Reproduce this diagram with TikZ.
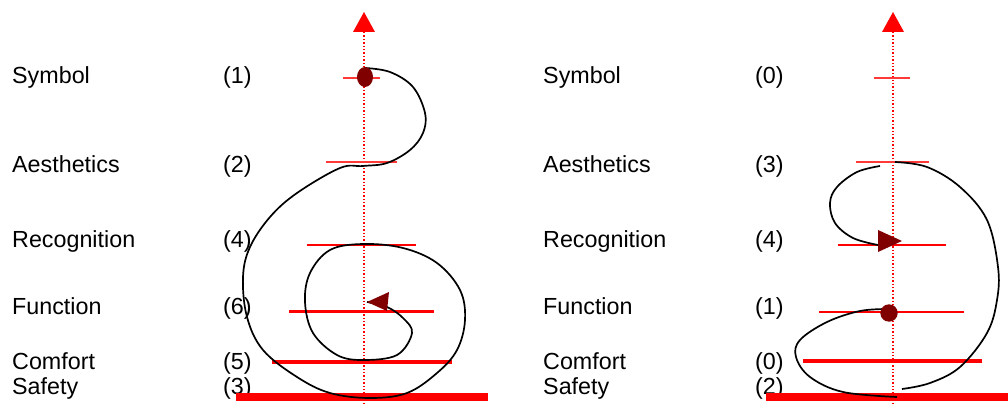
\documentclass[tikz,border=0pt]{standalone}
\usepackage{fontspec}
\setmainfont{Liberation Sans}
\definecolor{axisred}{RGB}{255,0,0}
\definecolor{darkred}{RGB}{128,0,0}
\begin{document}
\begin{tikzpicture}[x=1pt,y=-1pt,
  lbl/.style={anchor=base west,inner sep=0pt,font=\fontsize{23.3}{27}\selectfont},
  axisline/.style={draw=axisred,dotted,line width=1.4pt},
  tipmark/.style={fill=axisred,draw=none},
  lighttick/.style={draw=axisred!78!white,line width=2pt},
  midtick/.style={draw=axisred,line width=2.2pt},
  thicktick/.style={draw=axisred,line width=4.5pt},
  basetick/.style={draw=axisred,line width=8pt},
  curve/.style={draw=black,line width=1.7pt,smooth,tension=0.6},
  marker/.style={fill=darkred,draw=none}]
\useasboundingbox (0,0) rectangle (1008,406);
% ---------- left labels ----------
\node[lbl] (l1) at (12,84) {Symbol};
\node[lbl] (l2) at (12,172) {Aesthetics};
\node[lbl] (l3) at (12,247) {Recognition};
\node[lbl] (l4) at (12,314) {Function};
\node[lbl] (l5) at (12,369) {Comfort};
\node[lbl] (l6) at (12,394) {Safety};
\node[lbl] (n1) at (223,84) {(1)};
\node[lbl] (n2) at (223,172) {(2)};
\node[lbl] (n3) at (223,247) {(4)};
\node[lbl] (n4) at (223,314) {(6)};
\node[lbl] (n5) at (223,369) {(5)};
\node[lbl] (n6) at (223,394) {(3)};
% ---------- right labels ----------
\node[lbl] (r1) at (543,84) {Symbol};
\node[lbl] (r2) at (543,172) {Aesthetics};
\node[lbl] (r3) at (543,247) {Recognition};
\node[lbl] (r4) at (543,314) {Function};
\node[lbl] (r5) at (543,369) {Comfort};
\node[lbl] (r6) at (543,394) {Safety};
\node[lbl] (m1) at (755,84) {(0)};
\node[lbl] (m2) at (755,172) {(3)};
\node[lbl] (m3) at (755,247) {(4)};
\node[lbl] (m4) at (755,314) {(1)};
\node[lbl] (m5) at (755,369) {(0)};
\node[lbl] (m6) at (755,394) {(2)};
% ---------- left axis ----------
\draw[axisline] (364,32) -- (364,406);
\fill[tipmark] (364,12) -- (375,32) -- (353,32) -- cycle;
\path[lighttick] (343,78) -- (380,78);
\path[lighttick] (326,162) -- (397,162);
\path[midtick] (307,245) -- (416,245);
\path[midtick] (289,311.5) -- (434,311.5);
\path[thicktick] (272,362) -- (452,362);
\path[basetick] (236,397) -- (488,397);
% ---------- right axis ----------
\draw[axisline] (893,32) -- (893,406);
\fill[tipmark] (893,12) -- (904,32) -- (882,32) -- cycle;
\path[lighttick] (874,78) -- (910,78);
\path[lighttick] (856,162) -- (929,162);
\path[midtick] (838,245) -- (946,245);
\path[midtick] (819,312) -- (964,312);
\path[thicktick] (803,361) -- (982,361);
\path[basetick] (766,397) -- (1008,397);
% ---------- left spiral ----------
\draw[curve] plot coordinates {(365,68) (390,72) (413,87) (425,113) (423,133) (410,150) (387,163) (363,166) (340,168) (297,193) (270,217) (250,247) (243,277) (247,317) (263,350) (297,377) (330,393) (370,398) (407,393) (437,373) (457,350) (465,320) (460,290) (437,263) (403,248) (363,244) (330,250) (310,273) (305,302) (313,333) (337,355) (363,360) (397,355) (412,333) (403,318) (387,307) (367,302)};
\fill[marker] (365,77) ellipse [x radius=8, y radius=10];
\fill[marker] (367,302) -- (389,292) -- (387,311) -- cycle;
% ---------- right curves ----------
\draw[curve] plot coordinates {(880,166) (857,172) (837,187) (830,203) (835,223) (853,238) (878,245)};
\fill[marker] (902,241) -- (878,230) -- (878,252) -- cycle;
\draw[curve] plot coordinates {(895,162) (927,167) (960,187) (987,220) (998,267) (997,300) (987,333) (960,367) (930,383) (902,389)};
\draw[curve] plot coordinates {(889,309) (860,311) (827,322) (800,340) (796,357) (810,377) (843,392) (897,397)};
\fill[marker] (889,313) circle (8.7);
\end{tikzpicture}
\end{document}
